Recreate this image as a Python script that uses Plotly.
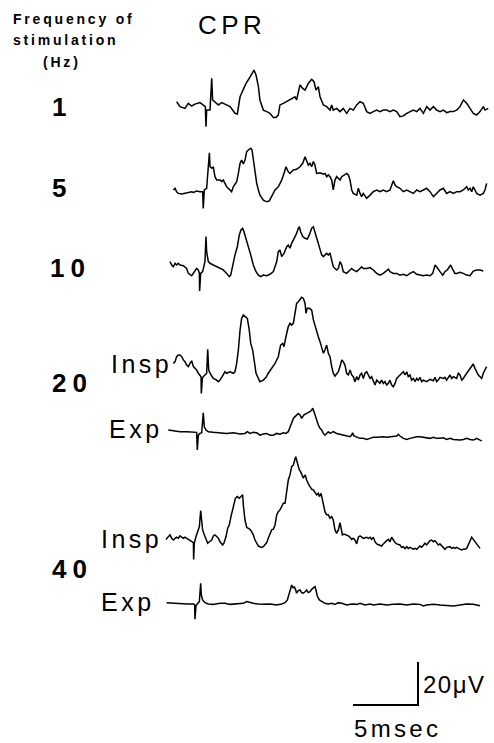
import plotly.graph_objects as go

# ---------------- data (time in ms, potential in microvolts) ----------------
t_1hz = [-2.26,-2.00,-1.62,-1.36,-1.10,-0.85,-0.46,-0.21,-0.05,0.00,0.05,0.31,0.44,0.51,0.69,0.95,1.21,1.46,1.85,2.23,2.41,2.62,2.82,3.08,3.33,3.59,3.69,3.85,4.03,4.15,4.41,4.67,4.92,5.18,5.38,5.56,5.69,5.95,6.21,6.46,6.72,6.85,6.97,7.23,7.44,7.62,7.87,8.13,8.31,8.46,8.64,8.77,9.03,9.28,9.54,9.67,9.79,10.05,10.31,10.56,10.82,11.08,11.33,11.59,11.85,12.10,12.36,12.62,12.87,13.13,13.38,13.64,13.90,14.15,14.41,14.67,14.92,15.18,15.44,15.69,15.95,16.21,16.46,16.72,16.98,17.23,17.49,17.75,18.00,18.26,18.52,18.77,19.03,19.28,19.54,19.80,20.05,20.31,20.56,20.82,21.08,21.33,21.46,21.71]
v_1hz = [0.6,-1.7,-2.5,-0.2,-1.4,-0.5,0.2,-0.9,-1.7,-11.0,-3.3,-3.3,11.5,1.4,0.6,-0.9,0.2,-0.5,-1.7,-4.8,-5.1,2.9,6.0,9.1,11.5,14.6,15.3,13.0,7.6,1.4,-3.3,-4.0,-4.8,-6.7,-6.7,-5.6,-0.9,-0.2,0.6,1.4,2.2,2.9,1.4,8.4,6.8,6.0,9.1,11.0,9.9,6.0,7.6,2.9,-0.9,-1.7,-3.3,-0.9,-3.3,-2.5,-4.0,-2.5,-4.8,-2.5,-3.3,-0.9,0.6,-0.1,-4.0,-4.8,-4.0,-3.3,-4.0,-3.3,-3.3,-4.0,-3.3,-4.0,-6.4,-6.0,-4.8,-4.0,-3.3,-4.0,-2.5,-4.8,-1.7,-3.3,-1.7,-3.3,-4.0,-3.3,-4.5,-4.0,-4.0,-3.3,-1.7,1.4,-0.1,-2.5,-4.8,-5.6,-4.0,-1.7,-3.3,-2.5]

t_5hz = [-2.51,-2.38,-2.26,-2.13,-1.87,-1.62,-1.36,-1.10,-0.97,-0.72,-0.46,-0.26,-0.21,-0.13,0.05,0.26,0.31,0.44,0.56,0.69,0.82,1.08,1.21,1.33,1.46,1.59,1.85,1.97,2.10,2.36,2.49,2.62,2.74,2.87,3.00,3.13,3.26,3.44,3.54,3.64,3.77,3.90,4.03,4.15,4.41,4.67,4.87,5.05,5.31,5.56,5.82,6.00,6.15,6.33,6.46,6.72,6.97,7.23,7.44,7.62,7.74,7.87,8.00,8.13,8.26,8.38,8.51,8.77,9.03,9.15,9.28,9.41,9.54,9.67,9.79,9.92,10.05,10.31,10.44,10.69,10.82,10.95,11.08,11.21,11.33,11.59,11.72,11.85,11.97,12.10,12.36,12.62,12.87,13.13,13.38,13.64,13.90,14.15,14.41,14.54,14.67,14.92,15.18,15.44,15.69,15.95,16.21,16.46,16.72,16.97,17.23,17.49,17.74,18.00,18.26,18.51,18.77,19.03,19.28,19.54,19.79,20.05,20.18,20.31,20.44,20.56,20.69,20.82,21.08,21.33,21.46,21.59]
v_5hz = [0.8,1.6,0.0,-0.8,-1.1,-0.8,-0.5,0.0,-0.3,0.3,0.0,0.0,-7.8,0.8,1.6,18.1,11.6,10.9,11.6,7.0,5.4,5.4,4.7,5.4,3.9,2.3,0.8,0.0,2.3,4.7,8.5,13.2,14.7,12.9,14.7,18.6,19.4,20.2,19.4,14.7,8.5,3.9,0.8,-1.6,-3.9,-4.7,-4.3,-2.3,0.8,2.3,5.4,8.5,11.6,9.3,8.5,10.1,10.4,11.6,13.2,16.3,14.7,12.4,13.2,11.6,14.0,12.4,8.5,8.8,8.2,8.5,7.0,7.8,7.0,5.4,0.8,5.4,7.0,5.4,7.0,7.8,8.5,7.8,5.4,0.8,-0.8,-1.6,1.6,-0.8,-2.3,-0.8,-3.1,-1.6,0.0,0.8,0.0,0.8,0.0,0.8,5.1,3.1,2.3,1.6,0.0,0.8,0.0,-0.8,0.8,0.0,0.8,1.6,0.0,-2.3,-0.8,0.8,1.6,-0.8,0.0,-0.8,0.0,0.0,0.8,2.3,0.8,1.6,0.0,2.3,0.8,-0.8,-1.6,-0.8,0.8,3.9]

t_10hz = [-2.77,-2.64,-2.51,-2.38,-2.26,-2.13,-2.00,-1.74,-1.49,-1.36,-1.10,-0.97,-0.85,-0.72,-0.59,-0.51,-0.49,-0.41,-0.26,-0.08,0.00,0.05,0.18,0.31,0.56,0.82,1.08,1.33,1.59,1.79,1.90,2.05,2.23,2.41,2.56,2.69,2.82,2.92,3.08,3.26,3.44,3.64,3.85,4.03,4.21,4.41,4.67,4.92,5.18,5.44,5.56,5.69,5.82,6.00,6.21,6.33,6.46,6.59,6.72,6.85,6.97,7.10,7.18,7.28,7.44,7.62,7.79,7.95,8.13,8.26,8.38,8.51,8.72,8.90,9.03,9.28,9.41,9.54,9.67,9.79,10.05,10.18,10.31,10.44,10.56,10.82,11.08,11.21,11.33,11.59,11.85,11.97,12.10,12.36,12.62,12.87,13.13,13.38,13.64,13.90,14.03,14.15,14.41,14.67,14.92,15.18,15.44,15.69,15.95,16.21,16.46,16.72,16.97,17.23,17.44,17.62,17.74,17.87,18.00,18.21,18.38,18.56,18.72,18.82,18.97,19.15,19.28,19.54,19.79,20.05,20.31,20.44,20.56,20.82,21.08,21.33]
v_10hz = [1.6,0.0,-0.8,0.8,0.0,0.8,0.0,-0.3,-1.6,-3.9,-5.0,-3.9,-2.3,-1.6,-2.3,-3.9,-12.1,-3.9,-3.1,1.6,13.2,6.2,1.6,0.8,0.0,-0.8,-1.6,-2.3,-3.9,-5.4,-4.7,0.0,4.7,8.5,14.0,16.3,17.1,15.5,12.4,9.3,4.7,0.0,-3.1,-4.7,-5.4,-4.7,-5.0,-4.3,-3.1,1.6,6.2,7.0,3.9,5.4,8.5,9.3,7.8,10.1,11.6,13.2,14.7,17.1,17.8,15.5,13.2,12.4,12.1,14.0,17.1,17.8,15.5,12.4,8.5,4.7,3.9,5.4,4.7,5.4,2.3,-0.8,-2.3,-1.6,1.6,0.0,-3.1,-3.9,-2.3,-1.6,-2.3,-3.1,-1.6,-0.8,-1.6,-1.6,-1.2,-2.3,-3.9,-4.7,-3.9,-2.3,-1.9,-3.1,-3.9,-3.9,-4.7,-4.3,-5.0,-3.9,-3.1,-4.3,-4.7,-5.0,-4.7,-5.0,-3.9,0.0,-0.8,-2.3,-3.1,-4.7,-3.1,-2.3,-0.8,0.0,-1.9,-3.9,-3.9,-3.4,-3.9,-4.7,-5.0,-3.9,-2.8,-2.3,-2.3,-2.8]

t_20hz_insp = [-2.51,-2.38,-2.26,-2.13,-2.00,-1.87,-1.74,-1.62,-1.49,-1.36,-1.23,-1.10,-0.97,-0.85,-0.72,-0.59,-0.46,-0.38,-0.36,-0.28,-0.21,-0.08,0.05,0.13,0.21,0.31,0.56,0.82,0.95,1.08,1.33,1.46,1.59,1.85,2.10,2.23,2.36,2.49,2.62,2.74,2.87,3.00,3.18,3.33,3.44,3.59,3.69,3.85,4.03,4.15,4.41,4.62,4.79,5.05,5.31,5.56,5.74,5.90,6.00,6.15,6.33,6.46,6.59,6.72,6.85,6.97,7.10,7.23,7.36,7.49,7.62,7.69,7.79,7.95,8.13,8.26,8.38,8.51,8.64,8.77,8.90,9.03,9.15,9.28,9.41,9.54,9.67,9.79,9.92,10.05,10.18,10.31,10.44,10.56,10.69,10.82,10.95,11.08,11.21,11.33,11.46,11.59,11.72,11.85,11.97,12.10,12.23,12.36,12.49,12.62,12.74,12.87,13.00,13.13,13.26,13.38,13.51,13.64,13.77,13.90,14.03,14.15,14.28,14.41,14.54,14.67,14.79,14.92,15.18,15.31,15.44,15.56,15.69,15.82,15.95,16.08,16.21,16.33,16.46,16.59,16.72,16.97,17.23,17.49,17.62,17.74,17.87,18.00,18.26,18.38,18.51,18.77,18.90,19.03,19.15,19.28,19.41,19.54,19.67,19.79,20.05,20.31,20.44,20.56,20.69,20.82,20.95,21.08,21.21,21.33,21.46,21.59]
v_20hz_insp = [6.2,7.0,9.3,10.1,10.1,9.3,7.8,7.0,5.4,4.7,6.2,7.4,4.7,3.9,3.1,1.6,0.8,0.0,-7.8,-0.8,0.0,0.8,1.6,12.7,3.1,1.6,-0.8,-1.6,-2.3,-1.6,0.8,2.3,1.6,2.3,1.6,2.3,6.2,12.4,21.7,27.1,28.7,27.9,27.1,21.7,15.5,12.4,7.8,1.6,-0.8,-2.3,-1.6,-0.3,1.6,3.9,6.2,9.3,14.7,15.5,14.0,18.6,23.3,24.8,24.0,24.8,29.5,34.1,34.9,35.7,36.9,36.4,34.1,29.5,31.8,31.8,31.0,26.4,24.0,20.2,18.6,16.3,14.0,10.9,12.4,14.7,10.9,9.3,4.7,1.6,0.3,1.2,2.3,4.7,7.8,7.0,5.4,1.6,0.8,3.1,0.8,0.0,-2.3,0.0,-1.6,0.8,1.6,-0.8,1.6,2.3,0.8,-0.8,0.0,-2.3,-3.9,-1.6,-2.3,-3.1,-1.6,-3.1,-2.3,-3.9,-3.1,-1.6,-3.9,-4.7,-3.1,-0.8,0.0,0.8,2.3,0.8,2.3,0.0,0.8,-1.6,-0.8,-2.3,-0.8,-1.6,-0.3,-2.3,-1.6,-2.3,-1.2,-1.9,-0.3,-2.3,-1.6,-0.3,-0.8,-0.3,-1.6,0.8,-0.8,0.0,-0.3,-0.8,1.6,0.8,-1.6,-0.8,1.6,3.9,5.4,5.9,3.9,2.3,0.8,0.0,-0.8,1.6,3.1,4.7]

t_20hz_exp = [-2.90,-2.51,-2.00,-1.49,-0.97,-0.72,-0.67,-0.59,-0.46,-0.33,-0.21,-0.13,0.00,0.18,0.56,1.08,1.59,2.10,2.62,3.00,3.18,3.38,3.64,3.90,4.15,4.41,4.67,4.92,5.18,5.44,5.69,5.95,6.15,6.33,6.46,6.59,6.72,6.85,6.97,7.10,7.23,7.36,7.44,7.54,7.74,7.87,8.00,8.13,8.21,8.31,8.38,8.51,8.64,8.77,8.90,9.03,9.15,9.28,9.41,9.54,9.67,9.79,10.05,10.31,10.56,10.82,11.08,11.21,11.28,11.38,11.59,11.85,12.10,12.36,12.62,12.87,13.13,13.38,13.64,13.90,14.15,14.41,14.67,14.79,14.92,15.18,15.44,15.69,15.95,16.21,16.46,16.72,16.97,17.23,17.49,17.74,18.00,18.26,18.51,18.77,19.03,19.28,19.54,19.79,20.05,20.31,20.56,20.69,20.82,21.08,21.21]
v_20hz_exp = [0.8,0.3,0.0,0.0,-0.3,-0.3,-8.5,-1.6,-0.8,-0.5,8.8,2.3,0.8,0.0,-0.3,-0.5,-0.8,-0.5,-1.1,-0.8,0.0,-0.8,-0.3,-0.5,-1.6,-1.1,-0.8,-1.6,-1.6,-0.8,-1.2,-0.5,-0.8,0.0,2.3,4.7,6.2,7.0,7.8,8.5,7.8,6.2,7.0,7.8,8.5,8.8,9.3,10.1,10.9,9.3,7.8,5.4,3.1,1.6,0.8,-0.8,-1.6,-0.8,0.0,-0.8,-0.5,0.0,-0.8,-1.2,-1.6,-2.0,-2.3,-1.6,-0.5,-2.0,-2.6,-3.1,-3.1,-3.6,-3.1,-2.6,-2.6,-2.3,-2.3,-2.6,-2.3,-2.0,-2.0,-1.2,-2.0,-3.1,-3.6,-3.1,-2.6,-2.3,-2.3,-2.6,-3.1,-3.1,-2.6,-3.1,-3.1,-2.8,-3.6,-3.1,-3.6,-3.9,-3.9,-3.6,-3.1,-3.6,-3.9,-3.6,-3.1,-3.9,-4.2]

t_40hz_insp = [-3.08,-2.90,-2.77,-2.64,-2.51,-2.38,-2.26,-2.13,-2.00,-1.87,-1.74,-1.62,-1.49,-1.36,-1.23,-1.10,-0.97,-0.95,-0.90,-0.77,-0.64,-0.51,-0.41,-0.33,-0.26,-0.13,0.00,0.13,0.26,0.44,0.56,0.69,0.82,0.95,1.08,1.28,1.38,1.54,1.67,1.79,1.92,2.05,2.15,2.26,2.41,2.56,2.69,2.82,2.87,3.00,3.13,3.26,3.38,3.51,3.64,3.77,3.90,4.03,4.15,4.28,4.41,4.54,4.67,4.79,4.92,5.05,5.18,5.31,5.44,5.56,5.69,5.82,5.95,6.08,6.15,6.26,6.33,6.46,6.59,6.72,6.79,6.90,6.97,7.05,7.18,7.28,7.38,7.49,7.54,7.64,7.74,7.82,7.92,8.00,8.13,8.26,8.33,8.44,8.51,8.64,8.72,8.85,8.95,9.03,9.15,9.28,9.41,9.54,9.67,9.79,9.92,10.05,10.18,10.31,10.38,10.49,10.62,10.82,10.95,11.08,11.21,11.33,11.46,11.59,11.72,11.85,11.97,12.10,12.36,12.49,12.62,12.74,12.87,13.00,13.13,13.38,13.51,13.64,13.77,13.90,14.03,14.15,14.28,14.41,14.54,14.67,14.92,15.05,15.18,15.31,15.44,15.56,15.69,15.95,16.08,16.21,16.33,16.46,16.59,16.72,16.85,16.97,17.10,17.23,17.36,17.49,17.62,17.74,17.87,18.00,18.13,18.26,18.38,18.51,18.64,18.77,18.90,19.03,19.15,19.28,19.41,19.54,19.67,19.79,19.92,20.05,20.18,20.31,20.44,20.56,20.69,20.82,20.95,21.08]
v_40hz_insp = [-0.5,0.5,1.6,0.0,-0.8,0.0,0.5,0.0,1.1,0.5,0.0,0.5,0.0,-0.5,-0.8,-1.1,-2.0,-9.8,-2.3,0.8,3.1,5.4,12.9,5.4,3.9,1.6,-0.8,-2.3,-1.6,-0.8,1.1,1.6,0.8,0.0,-1.6,-3.1,-2.3,0.8,4.7,6.2,10.1,14.0,16.3,18.6,19.4,18.6,19.4,20.2,15.5,8.5,5.1,4.7,4.2,3.1,1.6,-0.8,-2.6,-3.6,-3.9,-4.2,-3.9,-3.1,-2.0,0.0,2.3,3.9,4.2,6.2,10.9,12.4,13.2,14.7,16.3,16.3,19.4,24.0,27.1,29.5,33.3,34.1,35.7,38.0,36.4,34.1,31.8,31.0,29.5,27.9,28.7,29.5,27.1,25.6,24.8,24.0,22.8,22.5,21.7,20.9,20.2,20.9,19.4,20.9,17.8,14.7,12.4,10.9,10.9,9.3,10.1,8.5,3.9,2.3,3.9,7.3,5.1,1.6,2.0,1.6,1.1,0.5,-0.5,0.0,-0.8,-2.6,0.5,1.1,0.5,0.0,0.5,0.0,0.5,-0.5,0.5,-1.6,-2.6,-3.1,-3.6,-2.6,-1.6,-1.1,-0.5,-1.6,0.5,-0.8,-2.0,-2.6,-3.1,-4.2,-3.9,-4.8,-3.9,-4.7,-4.2,-5.1,-4.7,-5.1,-4.2,-3.6,-4.2,-3.1,-2.3,-3.1,-2.0,-1.1,-0.8,-1.6,-1.1,-2.3,-3.1,-2.6,-3.6,-4.2,-5.1,-4.2,-3.9,-3.9,-4.7,-4.2,-4.7,-4.2,-4.7,-5.1,-5.4,-5.1,-5.1,-4.7,-3.1,-0.8,0.5,-0.5,-1.6,-3.1,-4.2,-4.7]

t_40hz_exp = [-3.03,-2.51,-2.00,-1.49,-0.97,-0.87,-0.85,-0.77,-0.67,-0.51,-0.41,-0.36,-0.26,-0.08,0.18,0.56,1.08,1.46,1.85,2.36,2.87,3.13,3.38,3.64,4.03,4.41,4.92,5.44,5.82,6.08,6.26,6.41,6.51,6.59,6.72,6.79,6.90,6.97,7.10,7.23,7.36,7.49,7.62,7.74,7.87,8.00,8.13,8.26,8.38,8.46,8.56,8.72,8.90,9.15,9.41,9.67,9.92,10.18,10.44,10.82,11.21,11.59,11.85,12.23,12.62,12.87,13.38,13.90,14.41,14.92,15.44,15.95,16.46,16.72,16.97,17.49,18.00,18.51,19.03,19.54,20.05,20.56,21.08]
v_40hz_exp = [0.3,0.0,0.0,-0.3,-0.3,-0.6,-7.4,-1.2,-0.3,0.8,9.3,3.9,1.6,0.3,-0.3,-0.5,0.0,0.0,-0.5,-0.3,0.0,0.8,0.3,0.0,-0.3,-0.5,-0.3,-0.8,-0.3,0.3,1.6,4.7,7.0,8.5,7.0,7.8,6.2,4.7,5.9,6.2,5.0,4.7,5.4,6.2,5.0,5.4,6.5,7.0,7.8,6.2,3.4,1.6,0.8,0.0,-0.3,0.0,-0.5,0.3,0.0,-0.8,-0.3,-0.5,0.0,-0.8,-0.3,-0.8,-0.3,-0.8,-0.5,-0.3,-0.8,-0.3,-0.5,-1.2,-0.8,-0.5,-0.8,-1.1,-1.2,-0.8,-0.3,-0.5,-1.1]

frequencies = ["1", "5", "10", "20", "40"]
scale_time_ms = 5
scale_volt_uv = 20

# ---------------- layout geometry (page pixels -> axis units) ----------------
W, H = 494, 743
PX_PER_MS = 13.0
PX_PER_UV = 2.15
X0_PX = 206.0

def X(px):
    return (px - X0_PX) / PX_PER_MS

def Y(py):
    return -py / PX_PER_UV

traces = [
    (t_1hz, v_1hz, 103.0),
    (t_5hz, v_5hz, 191.7),
    (t_10hz, v_10hz, 265.0),
    (t_20hz_insp, v_20hz_insp, 376.7),
    (t_20hz_exp, v_20hz_exp, 431.7),
    (t_40hz_insp, v_40hz_insp, 538.3),
    (t_40hz_exp, v_40hz_exp, 603.3),
]

fig = go.Figure()
for t, v, base_py in traces:
    b = Y(base_py)
    fig.add_trace(go.Scatter(x=t, y=[val + b for val in v], mode="lines",
                             line=dict(color="black", width=1.5),
                             hoverinfo="skip", showlegend=False))

# scale bar
sb_t0 = X(353)
sb_y0 = Y(705)
fig.add_trace(go.Scatter(
    x=[sb_t0, sb_t0 + scale_time_ms, sb_t0 + scale_time_ms],
    y=[sb_y0, sb_y0, sb_y0 + scale_volt_uv],
    mode="lines", line=dict(color="black", width=2),
    hoverinfo="skip", showlegend=False))

FONT = "Liberation Sans"

def label(text, px, py, size, anchor="left", bold=False, spacing=0):
    txt = text
    if spacing:
        txt = '<span style="letter-spacing:%spx">%s</span>' % (spacing, text)
    fig.add_annotation(x=X(px), y=Y(py), text=txt, showarrow=False,
                       xanchor=anchor, yanchor="middle",
                       font=dict(family=FONT, size=size, color="black",
                                 weight="bold" if bold else "normal"))

label("Frequency of", 11, 19, 14, bold=True, spacing=2.8)
label("stimulation", 11, 40, 14, bold=True, spacing=2.8)
label("(Hz)", 41, 62, 14, bold=True, spacing=2.8)
label("CPR", 196, 25, 26, spacing=4.5)

label(frequencies[0], 59, 107, 26, anchor="center", bold=True)
label(frequencies[1], 58.5, 188, 26, anchor="center", bold=True)
label(frequencies[2], 70, 268, 26, anchor="center", bold=True, spacing=6)
label(frequencies[3], 72, 383, 26, anchor="center", bold=True, spacing=6)
label(frequencies[4], 72, 569, 26, anchor="center", bold=True, spacing=6)

label("Insp", 174, 364, 25, anchor="right", spacing=3.5)
label("Exp", 165, 429, 25, anchor="right", spacing=3.5)
label("Insp", 164, 539, 25, anchor="right", spacing=3.5)
label("Exp", 157, 602, 25, anchor="right", spacing=3.5)

label("20μV", 421, 684, 24, spacing=1.5)
label("5msec", 352, 728, 24, spacing=3.3)

fig.update_layout(
    width=W, height=H,
    margin=dict(l=0, r=0, t=0, b=0),
    paper_bgcolor="white", plot_bgcolor="white",
    xaxis=dict(range=[X(0), X(W)], visible=False, fixedrange=True),
    yaxis=dict(range=[Y(H), Y(0)], visible=False, fixedrange=True),
)

fig.write_html(
    "out.html",
    config={"displayModeBar": False},
    post_script="document.body.style.margin='0';document.body.style.overflow='hidden';",
)
